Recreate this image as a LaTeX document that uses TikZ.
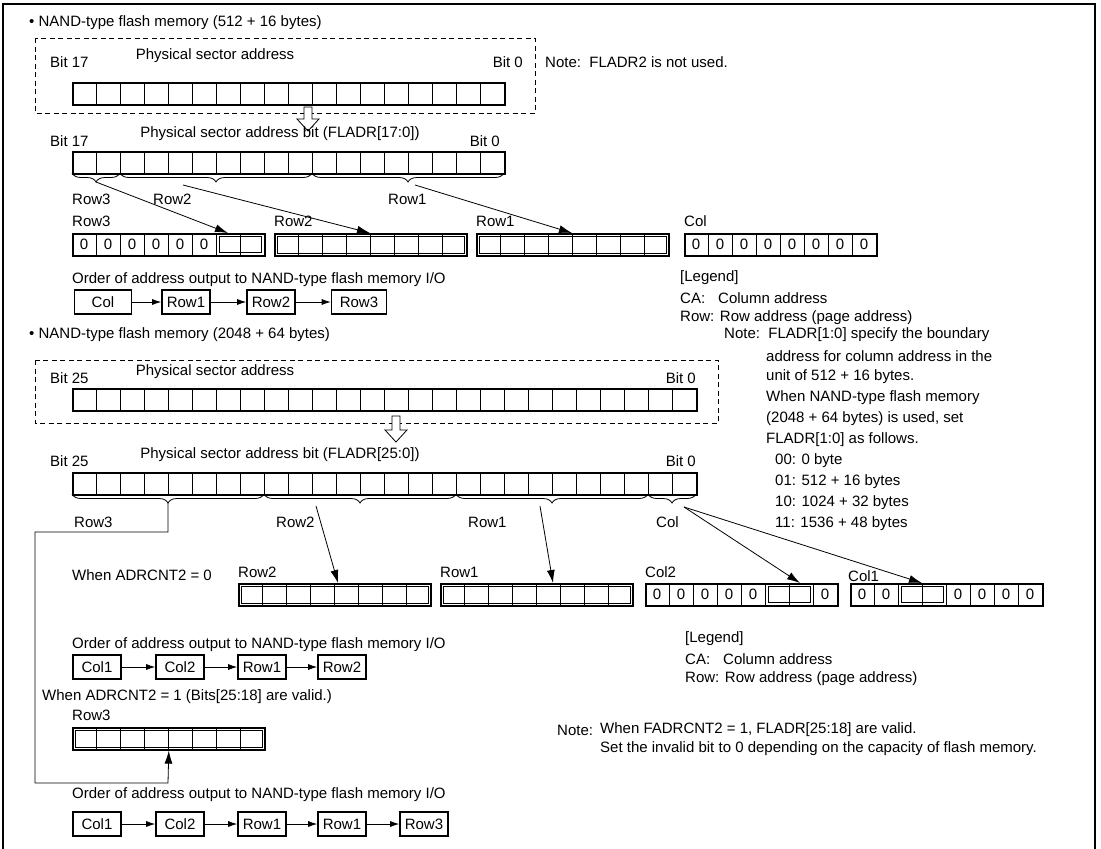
\documentclass[tikz,border=0pt]{standalone}
\usepackage{fontspec}
\setmainfont{Liberation Sans}
\usetikzlibrary{positioning, arrows.meta, calc, decorations.pathreplacing}

\begin{document}
\begin{tikzpicture}[x=1pt, y=-1pt,
  every node/.style={font=\fontsize{15}{18}\selectfont},
  lbl/.style={anchor=west, inner sep=0pt},
  rlbl/.style={anchor=east, inner sep=0pt},
  regbox/.style={draw, line width=1.6pt, inner sep=0pt, minimum height=22pt, anchor=north west},
  cell/.style={line width=0.7pt},
  dig/.style={inner sep=0pt},
  dashbox/.style={line width=0.7pt, dash pattern=on 5pt off 3.5pt},
  brc/.style={decorate, decoration={brace, amplitude=9pt, mirror}, line width=0.8pt},
  arr/.style={-{Latex[length=13pt, width=8pt]}, line width=0.8pt},
  flowbox/.style={draw, line width=1.6pt, minimum height=24pt, minimum width=48pt, inner sep=2pt},
  farr/.style={-{Latex[length=9pt, width=6pt]}, line width=0.8pt},
  hollow/.style={draw, line width=0.8pt, fill=white},
]
  \useasboundingbox (0,0) rectangle (1101,849);
  \draw[line width=2pt] (3,849) -- (3,4) -- (1095,4) -- (1095,849);

  % registers: name / x / y / cells
  \foreach \nm/\x/\y/\n in {regA/72/82/18, regB/72/151/18, regC/72/388/26, regD/72/472/26,
      rthreeA/72/233/8, rtwoA/274/233/8, roneA/476/233/8, colA/684/233/8,
      rtwoB/238/583/8, roneB/440/583/8, coltwoB/645/583/8, coloneB/850/583/8,
      rthreeB/72/727/8} {
    \node[regbox, minimum width=\n*24pt] (\nm) at (\x,\y) {};
    \pgfmathtruncatemacro\m{\n-1}
    \foreach \k in {1,...,\m}
      \draw[cell] (\x+\k*24,\y) -- (\x+\k*24,\y+22);
  }

  % inner boxes
  \foreach \nm in {rtwoA, roneA, rtwoB, roneB, rthreeB}
    \draw[cell] ($(\nm.north west)+(3,3)$) rectangle ($(\nm.south east)+(-3,-3)$);
  \draw[cell] ($(rthreeA.north west)+(147,3)$) rectangle ($(rthreeA.north west)+(189,19)$);
  \draw[cell] ($(coltwoB.north west)+(123,3)$) rectangle ($(coltwoB.north west)+(165,19)$);
  \draw[cell] ($(coloneB.north west)+(51,3)$) rectangle ($(coloneB.north west)+(93,19)$);

  % zeros
  \foreach \k in {0,...,5}
    \node[dig] at ($(rthreeA.west)+(\k*24+12,0)$) {0};
  \foreach \k in {0,...,7}
    \node[dig] at ($(colA.west)+(\k*24+12,0)$) {0};
  \foreach \k in {0,...,4,7}
    \node[dig] at ($(coltwoB.west)+(\k*24+12,0)$) {0};
  \foreach \k in {0,1,4,5,6,7}
    \node[dig] at ($(coloneB.west)+(\k*24+12,0)$) {0};

  % 512 + 16 bytes
  \node[lbl] (ttlA) at (29,23) {• NAND-type flash memory (512 + 16 bytes)};
  \draw[dashbox] (35,38) rectangle (535,113);
  \node[lbl] (hiA) at (50,62) {Bit 17};
  \node (psaA) at (215,56) {Physical sector address};
  \node[rlbl] (loA) at (523,62) {Bit 0};
  \node[lbl] (noteA) at (545,62) {Note:\ \ FLADR2 is not used.};
  \draw[hollow] (304,107) -- (304,119) -- (297,119) -- (308,131) -- (319,119) -- (312,119) -- (312,107) -- cycle;

  \node[lbl] (hiB) at (50,141) {Bit 17};
  \node (psbA) at (280,134) {Physical sector address bit (FLADR[17:0])};
  \node[rlbl] (loB) at (500,141) {Bit 0};

  \draw[brc] (72,173) -- (120,173);
  \draw[brc] (120,173) -- (312,173);
  \draw[brc] (312,173) -- (504,173);
  \node[lbl] at (72,199) {Row3};
  \node[lbl] at (153,199) {Row2};
  \node[lbl] at (388,199) {Row1};

  \node[lbl] at (72,221) {Row3};
  \node[lbl] at (274,221) {Row2};
  \node[lbl] at (476,221) {Row1};
  \node[lbl] at (684,221) {Col};

  \coordinate (sThreeA) at (96,182);
  \coordinate (sTwoA) at (183,185);
  \coordinate (sOneA) at (415,185);
  \draw[arr] (sThreeA) -- ($(rthreeA.north west)+(156,0)$);
  \draw[arr] (sTwoA) -- ($(rtwoA.north west)+(96,0)$);
  \draw[arr] (sOneA) -- ($(roneA.north west)+(96,0)$);

  \node[lbl] (ordA) at (72,280) {Order of address output to NAND-type flash memory I/O};
  \node[flowbox, minimum width=57pt] (fColA) at (103,302) {Col};
  \node[flowbox] (fOneA) at (186,302) {Row1};
  \node[flowbox] (fTwoA) at (271,302) {Row2};
  \node[flowbox, minimum width=55pt] (fThreeA) at (359,302) {Row3};
  \draw[farr] (fColA) -- (fOneA);
  \draw[farr] (fOneA) -- (fTwoA);
  \draw[farr] (fTwoA) -- (fThreeA);

  \node[lbl] at (680,278) {[Legend]};
  \node[lbl] at (680,298) {\makebox[38pt][l]{CA:}Column address};
  \node[lbl] at (680,318) {Row: Row address (page address)};

  % 2048 + 64 bytes
  \node[lbl] (ttlB) at (29,335) {• NAND-type flash memory (2048 + 64 bytes)};
  \draw[dashbox] (35,360) rectangle (718,423);
  \node[lbl] (hiC) at (50,378) {Bit 25};
  \node (psaB) at (215,372) {Physical sector address};
  \node[rlbl] (loC) at (696,378) {Bit 0};
  \draw[hollow] (392,416) -- (392,430) -- (385,430) -- (396,442) -- (407,430) -- (400,430) -- (400,416) -- cycle;

  \node[lbl] (noteB) at (724,335) {Note:\ \ FLADR[1:0] specify the boundary};
  \foreach \t [count=\i] in {address for column address in the, unit of 512 + 16 bytes.,
      When NAND-type flash memory, {(2048 + 64 bytes) is used, set}, FLADR[1:0] as follows.}
    \node[lbl] at (766,335+21*\i) {\t};
  \foreach \t [count=\i] in {00: 0 byte, 01: 512 + 16 bytes, 10: 1024 + 32 bytes, 11: 1536 + 48 bytes}
    \node[lbl] at (775,440+21*\i) {\t};

  \node[lbl] (hiD) at (50,461) {Bit 25};
  \node (psbB) at (280,455) {Physical sector address bit (FLADR[25:0])};
  \node[rlbl] (loD) at (696,461) {Bit 0};

  \draw[brc] (72,494) -- (264,494);
  \draw[brc] (264,494) -- (456,494);
  \draw[brc] (456,494) -- (648,494);
  \draw[brc] (648,494) -- (696,494);
  \node[lbl] at (74,522) {Row3};
  \node[lbl] at (276,522) {Row2};
  \node[lbl] at (468,522) {Row1};
  \node[lbl] at (656,522) {Col};

  \coordinate (sThreeB) at (168,503);
  \coordinate (sTwoB) at (316,506);
  \coordinate (sOneB) at (540,506);
  \coordinate (sCol) at (684,507);
  \draw[arr] (sThreeB) -- (168,532) -- (35,532) -- (35,783) -- (168,783) -- (rthreeB.south);
  \draw[arr] (sTwoB) -- ($(rtwoB.north west)+(100,0)$);
  \draw[arr] (sOneB) -- ($(roneB.north west)+(113,0)$);
  \draw[arr] (sCol) -- ($(coltwoB.north west)+(155,0)$);
  \draw[arr] (sCol) -- ($(coloneB.north west)+(72,0)$);

  \node[lbl] (whenA) at (72,575) {When ADRCNT2 = 0};
  \node[lbl] at (238,572) {Row2};
  \node[lbl] at (440,572) {Row1};
  \node[lbl] at (645,572) {Col2};
  \node[lbl] at (848,576) {Col1};

  \node[lbl] at (685,639) {[Legend]};
  \node[lbl] at (685,659) {\makebox[38pt][l]{CA:}Column address};
  \node[lbl] at (685,679) {Row: Row address (page address)};

  \node[lbl] (ordB) at (72,645) {Order of address output to NAND-type flash memory I/O};
  \node[flowbox] (fOneB) at (97,667) {Col1};
  \node[flowbox] (fTwoB) at (180,667) {Col2};
  \node[flowbox] (fThreeB) at (262,667) {Row1};
  \node[flowbox] (fFourB) at (342,667) {Row2};
  \draw[farr] (fOneB) -- (fTwoB);
  \draw[farr] (fTwoB) -- (fThreeB);
  \draw[farr] (fThreeB) -- (fFourB);

  \node[lbl] (whenB) at (42,697) {When ADRCNT2 = 1 (Bits[25:18] are valid.)};
  \node[lbl] at (72,715) {Row3};

  \node[lbl] (noteC) at (557,730) {Note:};
  \node[lbl] at (600,730) {When FADRCNT2 = 1, FLADR[25:18] are valid.};
  \node[lbl] at (600,749) {Set the invalid bit to 0 depending on the capacity of flash memory.};

  \node[lbl] (ordC) at (72,795) {Order of address output to NAND-type flash memory I/O};
  \node[flowbox] (fOneC) at (97,824) {Col1};
  \node[flowbox] (fTwoC) at (180,824) {Col2};
  \node[flowbox] (fThreeC) at (262,824) {Row1};
  \node[flowbox] (fFourC) at (342,824) {Row1};
  \node[flowbox] (fFiveC) at (424,824) {Row3};
  \draw[farr] (fOneC) -- (fTwoC);
  \draw[farr] (fTwoC) -- (fThreeC);
  \draw[farr] (fThreeC) -- (fFourC);
  \draw[farr] (fFourC) -- (fFiveC);
\end{tikzpicture}
\end{document}
